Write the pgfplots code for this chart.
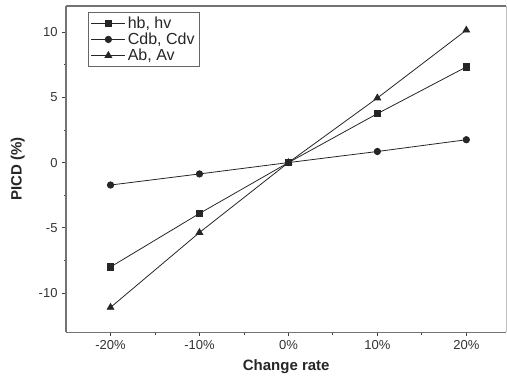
\documentclass[border=0pt]{standalone}
\usepackage{fontspec}
\setmainfont{Liberation Sans}
\usepackage{pgfplots}
\pgfplotsset{compat=1.18}
\begin{document}
\begin{tikzpicture}
\begin{axis}[
  scale only axis,
  width=440pt, height=326pt,
  xmin=-25, xmax=24.5, ymin=-13, ymax=12,
  xtick={-20,-10,0,10,20},
  xticklabels={-20\%,-10\%,0\%,10\%,20\%},
  ytick={-10,-5,0,5,10},
  minor x tick num=1, minor y tick num=1,
  tick align=outside,
  axis x line*=bottom, axis y line*=left,
  major tick length=4pt, minor tick length=2.5pt,
  every tick/.style={black!75, line width=0.8pt},
  axis line style={black!55, line width=1.3pt},
  /pgf/number format/assume math mode=true,
  tick label style={font=\fontsize{13}{14}\selectfont, text=black!80},
  xticklabel style={yshift=-1pt},
  yticklabel style={xshift=-1pt},
  xlabel={\textbf{Change rate}},
  ylabel={\textbf{PICD (\%)}},
  label style={font=\fontsize{15}{16}\selectfont, text=black!85},
  xlabel style={yshift=-3pt},
  ylabel style={yshift=7pt},
  legend style={at={(0.05,0.982)}, anchor=north west, draw=black!60, line width=0.8pt,
    font=\fontsize{16}{17}\selectfont, row sep=-1pt, inner sep=2.5pt, text=black!85},
  legend cell align=left,
  legend image code/.code={
    \draw[#1] (0pt,0pt) -- (34pt,0pt);
    \draw[#1, only marks] plot coordinates {(17pt,0pt)};
  },
  every axis plot/.append style={black!85, line width=0.8pt},
]
\addplot[mark=square*, mark size=3.2pt] coordinates {(-20,-8.0) (-10,-3.9) (0,0) (10,3.75) (20,7.33)};
\addlegendentry{hb, hv}
\addplot[mark=*, mark size=3.2pt] coordinates {(-20,-1.72) (-10,-0.87) (0,0) (10,0.85) (20,1.75)};
\addlegendentry{Cdb, Cdv}
\addplot[mark=triangle*, mark size=3.8pt] coordinates {(-20,-11.1) (-10,-5.36) (0,0) (10,4.95) (20,10.15)};
\addlegendentry{Ab, Av}
\end{axis}
\draw[black!55, line width=1.3pt] (current axis.north west) -- ++(440pt,0);
\draw[black!25, line width=0.6pt] (current axis.north west) ++(440pt,0) -- ++(0,-326pt);
\path (current axis.north west) ++(-66pt,6pt);
\path (current axis.south west) ++(0,-46pt);
\end{tikzpicture}
\end{document}
